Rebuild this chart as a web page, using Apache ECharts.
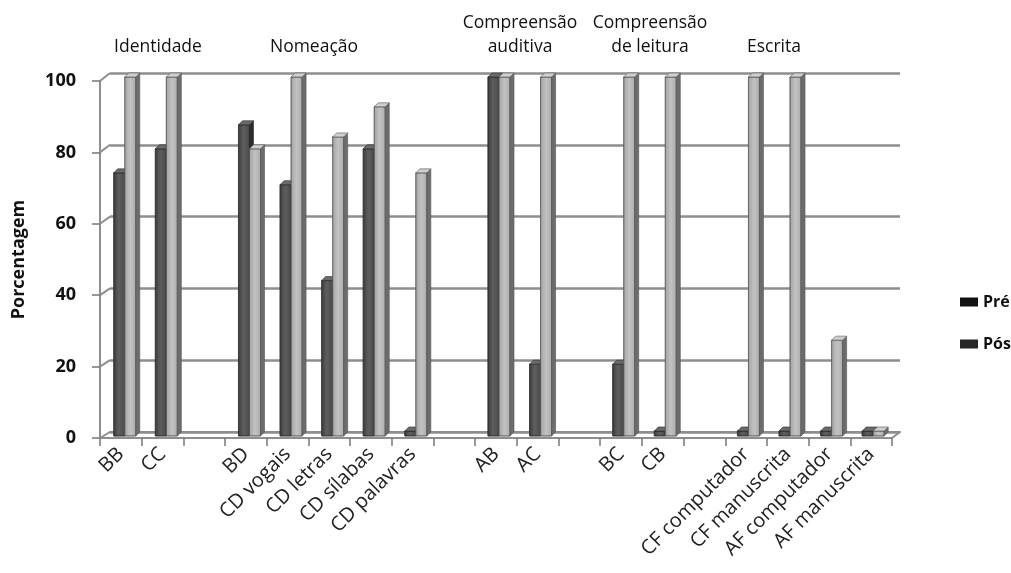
<!DOCTYPE html>
<html>
<head>
<meta charset="utf-8">
<script src="https://cdn.jsdelivr.net/npm/echarts@6/dist/echarts.min.js"></script>
<style>
  html, body { margin: 0; padding: 0; background: #ffffff; }
  #chart { width: 1011px; height: 573px; }
</style>
</head>
<body>
<div id="chart"></div>
<script>
// Categories along the x axis (blank entries are spacers between task groups)
const categories = ['BB', 'CC', ' ', 'BD', 'CD vogais', 'CD letras', 'CD sílabas', 'CD palavras', '  ',
  'AB', 'AC', '   ', 'BC', 'CB', '    ', 'CF computador', 'CF manuscrita', 'AF computador', 'AF manuscrita'];

// Percentages before (Pré) and after (Pós) the intervention
const preValues = [73.3, 80, null, 86.7, 70, 43.3, 80, 0, null, 100, 20, null, 20, 0, null, 0, 0, 0, 0];
const posValues = [100, 100, null, 80, 100, 83.3, 91.7, 73.3, null, 100, 100, null, 100, 100, null, 100, 100, 26.7, 0];

const seriesNames = ['Pré', 'Pós'];
const yTicks = [0, 20, 40, 60, 80, 100];

// Task group headings shown above the plot
const groupHeadings = ['Identidade', 'Nomeação', 'Compreensão\nauditiva', 'Compreensão\nde leitura', 'Escrita'];

const chart = echarts.init(document.getElementById('chart'), null, { renderer: 'canvas' });
const FONT = "'Open Sans', 'DejaVu Sans', sans-serif";

// Draws a column as a small 3D box: front face, right side face and top face.
function boxRenderer(offsetFrac, colors) {
  return function (params, api) {
    const idx = api.value(0);
    const v = api.value(1);
    const base = api.coord([idx, 0]);
    const head = api.coord([idx, v]);
    const band = api.size([1, 0])[0];
    const w = band * 0.265;   // front face width
    const d = 4;              // depth offset
    const x0 = base[0] + band * offsetFrac;
    const yBot = base[1] + d;
    let yTop = head[1] + d;
    if (yBot - yTop < 5) yTop = yBot - 5;   // minimum visible slab
    const front = new echarts.graphic.LinearGradient(0, 0, 1, 0, colors.front);
    return {
      type: 'group',
      children: [
        { type: 'rect', shape: { x: x0, y: yTop, width: w, height: yBot - yTop },
          style: { fill: front, stroke: colors.edge, lineWidth: 0.6 } },
        { type: 'polygon', shape: { points: [[x0 + w, yTop], [x0 + w + d, yTop - d], [x0 + w + d, yBot - d], [x0 + w, yBot]] },
          style: { fill: colors.side, stroke: colors.edge, lineWidth: 0.6 } },
        { type: 'polygon', shape: { points: [[x0, yTop], [x0 + d, yTop - d], [x0 + w + d, yTop - d], [x0 + w, yTop]] },
          style: { fill: colors.top, stroke: colors.edge, lineWidth: 0.6 } }
      ]
    };
  };
}

function toPairs(values) {
  const out = [];
  values.forEach((v, i) => { if (v !== null) out.push([i, v]); });
  return out;
}

const preColors = {
  front: [{ offset: 0, color: '#3c3c3c' }, { offset: 0.45, color: '#5e5e5e' }, { offset: 1, color: '#4a4a4a' }],
  side: '#2c2c2c', top: '#6a6a6a', edge: '#2a2a2a'
};
const posColors = {
  front: [{ offset: 0, color: '#a2a2a2' }, { offset: 0.5, color: '#c2c2c2' }, { offset: 1, color: '#acacac' }],
  side: '#6c6c6c', top: '#cfcfcf', edge: '#555555'
};

const gridLine = '#8e8e8e';

const option = {
  backgroundColor: '#ffffff',
  animation: false,
  textStyle: { fontFamily: FONT },
  grid: [
    // back wall
    { left: 110, right: 111, top: 73, bottom: 141 },
    // front edge (axes, labels)
    { left: 100, right: 119, top: 81, bottom: 135 }
  ],
  xAxis: [
    { type: 'category', gridIndex: 0, data: categories,
      axisLine: { show: true, lineStyle: { color: gridLine, width: 2 } },
      axisTick: { show: false }, axisLabel: { show: false } },
    { type: 'category', gridIndex: 1, data: categories,
      axisLine: { show: true, lineStyle: { color: gridLine, width: 2 } },
      axisTick: { show: true, length: 8, lineStyle: { color: '#777', width: 1.5 } },
      axisLabel: { interval: 0, rotate: 45, margin: 13, fontSize: 20, color: '#222', fontFamily: FONT } }
  ],
  yAxis: [
    { type: 'value', gridIndex: 0, min: 0, max: 100, interval: 20,
      axisLine: { show: false }, axisTick: { show: false }, axisLabel: { show: false },
      splitLine: { show: true, lineStyle: { color: gridLine, width: 2.5 } } },
    { type: 'value', gridIndex: 1, min: 0, max: 100, interval: 20,
      name: 'Porcentagem', nameLocation: 'middle', nameGap: 72,
      nameTextStyle: { fontSize: 18, fontWeight: 'bold', color: '#111', fontFamily: FONT },
      axisLine: { show: true, lineStyle: { color: gridLine, width: 2 } },
      axisTick: { show: true, length: 8, lineStyle: { color: '#777', width: 1.5 } },
      axisLabel: { margin: 24, fontSize: 18, fontWeight: 'bold', color: '#111', fontFamily: FONT },
      splitLine: { show: false } }
  ],
  legend: {
    orient: 'vertical', left: 955, top: 289, itemGap: 26,
    itemWidth: 18, itemHeight: 9, icon: 'rect',
    textStyle: { fontSize: 16, fontWeight: 'bold', color: '#111', fontFamily: FONT },
    data: [
      { name: seriesNames[0], itemStyle: { color: '#111111' } },
      { name: seriesNames[1], itemStyle: { color: '#262626' } }
    ]
  },
  series: [
    { name: seriesNames[0], type: 'custom', xAxisIndex: 0, yAxisIndex: 0,
      renderItem: boxRenderer(-0.41, preColors), data: toPairs(preValues),
      encode: { x: 0, y: 1 }, itemStyle: { color: '#111111' } },
    { name: seriesNames[1], type: 'custom', xAxisIndex: 0, yAxisIndex: 0,
      renderItem: boxRenderer(-0.145, posColors), data: toPairs(posValues),
      encode: { x: 0, y: 1 }, itemStyle: { color: '#262626' } }
  ]
};

chart.setOption(option);

// Side-wall and floor connectors between the front edge and the back wall,
// plus the task group headings.
const extras = [];
yTicks.forEach(t => {
  const f = chart.convertToPixel({ xAxisIndex: 1, yAxisIndex: 1 }, [0, t]);
  const b = chart.convertToPixel({ xAxisIndex: 0, yAxisIndex: 0 }, [0, t]);
  extras.push({ type: 'line', silent: true,
    shape: { x1: 100, y1: f[1], x2: 110, y2: b[1] },
    style: { stroke: gridLine, lineWidth: 2 } });
});
{
  const fy = chart.convertToPixel({ yAxisIndex: 1 }, 0);
  const by = chart.convertToPixel({ yAxisIndex: 0 }, 0);
  extras.push({ type: 'line', silent: true, shape: { x1: 892, y1: fy, x2: 900, y2: by },
    style: { stroke: gridLine, lineWidth: 2 } });
}
const headingPos = [[158, 47], [314, 47], [520, 35], [650, 35], [774, 47]];
groupHeadings.forEach((h, i) => {
  extras.push({ type: 'text', silent: true, x: headingPos[i][0], y: headingPos[i][1],
    style: { text: h, fontSize: 17.5, fontFamily: FONT, fill: '#111', align: 'center',
      verticalAlign: 'middle', lineHeight: 24 } });
});
chart.setOption({ graphic: { elements: extras } });
</script>
</body>
</html>
